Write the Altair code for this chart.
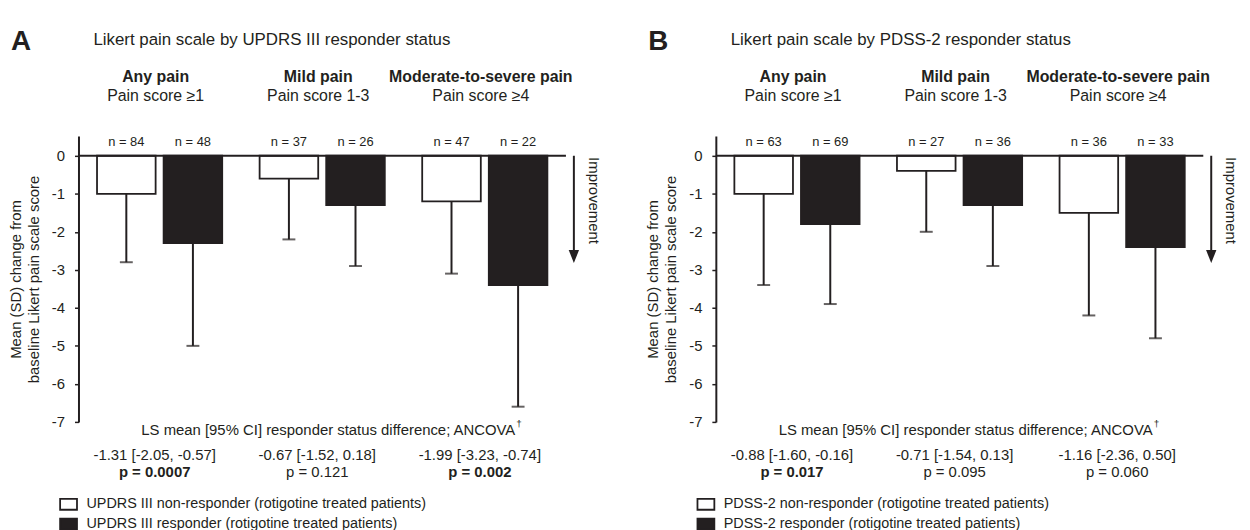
import altair as alt
import pandas as pd

FONT = "Liberation Sans"
K = "#231f20"

groups = ["Any pain", "Mild pain", "Moderate-to-severe pain"]
subtitles = ["Pain score \u22651", "Pain score 1-3", "Pain score \u22654"]

# Panel A: UPDRS III responder status
a_status = ["UPDRS III non-responder (rotigotine treated patients)",
            "UPDRS III responder (rotigotine treated patients)"]
a_non_mean = [-1.0, -0.6, -1.2]
a_non_sd = [1.8, 1.6, 1.9]
a_non_n = [84, 37, 47]
a_resp_mean = [-2.3, -1.3, -3.4]
a_resp_sd = [2.7, 1.6, 3.2]
a_resp_n = [48, 26, 22]
a_ci = ["-1.31 [-2.05, -0.57]", "-0.67 [-1.52, 0.18]", "-1.99 [-3.23, -0.74]"]
a_p = ["p = 0.0007", "p = 0.121", "p = 0.002"]
a_p_bold = [True, False, True]

# Panel B: PDSS-2 responder status
b_status = ["PDSS-2 non-responder (rotigotine treated patients)",
            "PDSS-2 responder (rotigotine treated patients)"]
b_non_mean = [-1.0, -0.4, -1.5]
b_non_sd = [2.4, 1.6, 2.7]
b_non_n = [63, 27, 36]
b_resp_mean = [-1.8, -1.3, -2.4]
b_resp_sd = [2.1, 1.6, 2.4]
b_resp_n = [69, 36, 33]
b_ci = ["-0.88 [-1.60, -0.16]", "-0.71 [-1.54, 0.13]", "-1.16 [-2.36, 0.50]"]
b_p = ["p = 0.017", "p = 0.095", "p = 0.060"]
b_p_bold = [True, False, False]

y_ticks = [0, -1, -2, -3, -4, -5, -6, -7]

W = 491
H = 288
SYMBOL = "M-1.214,-0.786H1.214V0.786H-1.214Z"


def panel(letter, title, status, non_mean, non_sd, non_n, resp_mean, resp_sd, resp_n,
          ci, pv, pbold):
    rows = []
    for i, g in enumerate(groups):
        rows.append(dict(group=g, status=status[0], mean=non_mean[i],
                         low=non_mean[i] - non_sd[i], nlab=f"n = {non_n[i]}"))
        rows.append(dict(group=g, status=status[1], mean=resp_mean[i],
                         low=resp_mean[i] - resp_sd[i], nlab=f"n = {resp_n[i]}"))
    bars_df = pd.DataFrame(rows)
    grp_df = pd.DataFrame(dict(group=groups, sub=subtitles, ci=ci, p=pv, bold=pbold))
    one = pd.DataFrame({"a": [0]})

    xs = alt.X("group:N", sort=groups, axis=None,
               scale=alt.Scale(domain=groups, paddingInner=0.23, paddingOuter=0.114))
    xo = alt.XOffset("status:N", sort=status,
                     scale=alt.Scale(domain=status, paddingInner=0.12, paddingOuter=0))
    yscale = alt.Scale(domain=[-7, 0.52], nice=False)
    yaxis = alt.Axis(
        values=y_ticks, labelExpr="'' + datum.value", grid=False,
        domainColor=K, domainWidth=2, tickColor=K, tickWidth=1.5, tickSize=4,
        labelFontSize=15, labelColor=K, labelPadding=10, labelFont=FONT,
        title=["Mean (SD) change from", "baseline  Likert pain scale score"],
        titleFontSize=15, titleFontWeight="normal", titleColor=K, titleFont=FONT,
        titlePadding=10, titleLineHeight=18,
    )

    base = alt.Chart(bars_df)
    bars = base.mark_bar(stroke=K, strokeWidth=1.8).encode(
        x=xs, xOffset=xo,
        y=alt.Y("mean:Q", scale=yscale, axis=yaxis),
        fill=alt.Fill("status:N", sort=status,
                      scale=alt.Scale(domain=status, range=["white", K]),
                      legend=alt.Legend(orient="none", legendX=-18, legendY=363,
                                        title=None, symbolType=SYMBOL, symbolSize=196,
                                        symbolStrokeColor=K, symbolStrokeWidth=1.8,
                                        labelFontSize=14.5, labelFont=FONT, labelColor=K,
                                        labelOffset=10, labelLimit=0, rowPadding=0,
                                        padding=0, direction="vertical")),
    )
    err = base.mark_rule(color=K, strokeWidth=2).encode(
        x=xs, xOffset=xo, y=alt.Y("mean:Q"), y2="low:Q")
    caps = base.mark_tick(color=K, thickness=2, size=13).encode(
        x=xs, xOffset=xo, y=alt.Y("low:Q"))
    nlab = base.mark_text(fontSize=13, color=K, font=FONT, baseline="alphabetic").encode(
        x=xs, xOffset=xo, y=alt.value(10), text="nlab:N")

    zero = alt.Chart(one).mark_rule(color=K, strokeWidth=2).encode(
        y=alt.datum(0), x=alt.value(0), x2=alt.value(W))
    arrow = alt.Chart(one).mark_rule(color=K, strokeWidth=2).encode(
        x=alt.value(W + 8), y=alt.datum(0), y2=alt.datum(-2.5))
    head = alt.Chart(one).mark_point(shape="M-0.8,-1L0.8,-1L0,1Z", size=169, filled=True,
                                     color=K, opacity=1, strokeWidth=0).encode(
        x=alt.value(W + 8), y=alt.datum(-2.65))
    improve = alt.Chart(one).mark_text(text="Improvement", angle=90, fontSize=15, color=K,
                                       font=FONT, align="center", baseline="middle").encode(
        x=alt.value(W + 28), y=alt.value(65))

    g = alt.Chart(grp_df)
    head1 = g.mark_text(fontSize=16, fontWeight="bold", color=K, font=FONT, dx=-4).encode(
        x=xs, y=alt.value(-59), text="group:N")
    head2 = g.mark_text(fontSize=16, color=K, font=FONT, dx=-4).encode(
        x=xs, y=alt.value(-40), text="sub:N")
    citxt = g.mark_text(fontSize=15, color=K, font=FONT, dx=-5).encode(
        x=xs, y=alt.value(321), text="ci:N")
    pb = g.transform_filter("datum.bold").mark_text(
        fontSize=15, fontWeight="bold", color=K, font=FONT, dx=-5).encode(
        x=xs, y=alt.value(338), text="p:N")
    pn = g.transform_filter("!datum.bold").mark_text(
        fontSize=15, color=K, font=FONT, dx=-5).encode(
        x=xs, y=alt.value(338), text="p:N")

    ls = alt.Chart(one).mark_text(
        text="LS mean [95% CI] responder status difference; ANCOVA", fontSize=15,
        color=K, font=FONT, align="right").encode(x=alt.value(440), y=alt.value(296))
    dag = alt.Chart(one).mark_text(text="\u2020", fontSize=10, color=K, font=FONT,
                                   align="left").encode(x=alt.value(441), y=alt.value(290))

    let = alt.Chart(one).mark_text(text=letter, fontSize=28, fontWeight="bold", color=K,
                                   font=FONT, align="left").encode(
        x=alt.value(-68), y=alt.value(-95))
    ttl = alt.Chart(one).mark_text(text=title, fontSize=17, color=K, font=FONT,
                                   align="left").encode(x=alt.value(15), y=alt.value(-97))

    return alt.layer(bars, err, caps, zero, nlab, arrow, head, improve, head1, head2,
                     citxt, pb, pn, ls, dag, let, ttl).properties(width=W, height=H)


pa = panel("A", "Likert pain scale by UPDRS III responder status", a_status,
           a_non_mean, a_non_sd, a_non_n, a_resp_mean, a_resp_sd, a_resp_n,
           a_ci, a_p, a_p_bold)
pb_ = panel("B", "Likert pain scale by PDSS-2 responder status", b_status,
            b_non_mean, b_non_sd, b_non_n, b_resp_mean, b_resp_sd, b_resp_n,
            b_ci, b_p, b_p_bold)

chart = alt.hconcat(pa, pb_, spacing=45).resolve_scale(
    fill="independent", x="independent", xOffset="independent", y="independent"
).resolve_legend(fill="independent").properties(
    padding={"left": 0, "top": 18, "right": 4, "bottom": 0}
).configure(font=FONT).configure_view(stroke=None)

chart.save("out.html", embed_options={"renderer": "svg", "actions": False})
